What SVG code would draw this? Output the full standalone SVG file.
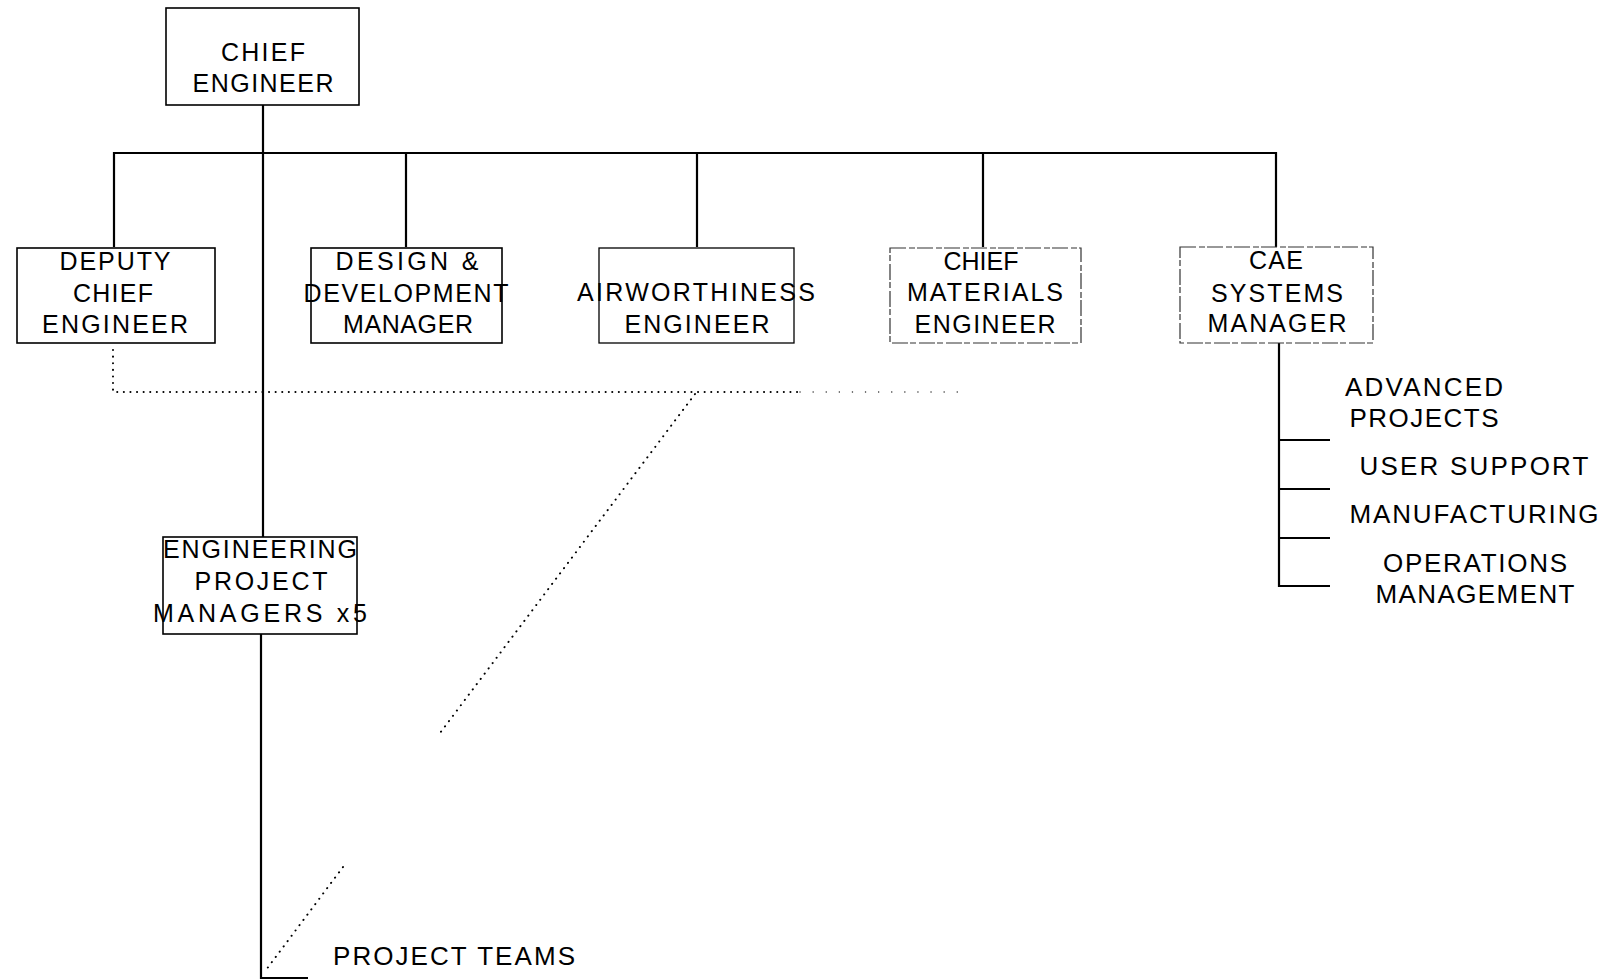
<svg xmlns="http://www.w3.org/2000/svg" width="1610" height="979" viewBox="0 0 1610 979">
<style>
.box{fill:none;stroke:#000;stroke-width:1.6}
.dbox{fill:none;stroke:#333;stroke-width:1.2;stroke-dasharray:16 3 6 2}
.ln{fill:none;stroke:#000;stroke-width:2.2}
.dot{fill:none;stroke:#000;stroke-width:2;stroke-linecap:round;stroke-dasharray:0.1 6.5}
.dot2{fill:none;stroke:#333;stroke-width:1.4;stroke-linecap:round;stroke-dasharray:0.1 13}
.t{font-family:"Liberation Sans",Arial,sans-serif;font-size:25px;fill:#000;text-anchor:middle}
.r{font-size:26px}
</style>
<rect width="1610" height="979" fill="#fff"/>
<g id="connectors">
<path class="ln" d="M263,105 V537 M261,634 V978 H308"/>
<path class="ln" d="M114,247 V153 H1276 V247 M406,153 V247 M697,153 V247 M983,153 V247"/>
<path class="ln" d="M1279,343 V586 H1330 M1279,440 H1330 M1279,489 H1330 M1279,538 H1330"/>
<path class="dot" d="M113,350 V392 H800"/>
<path class="dot2" d="M800,392 H968"/>
<path class="dot" d="M695,394 L440,733 M343,867 L266,970"/>
</g>
<g id="chief-engineer">
<rect class="box" x="166" y="8" width="193" height="97"/>
<text class="t" x="263" y="61" textLength="84" lengthAdjust="spacing">CHIEF</text>
<text class="t" x="263" y="92" textLength="141" lengthAdjust="spacing">ENGINEER</text>
</g>
<g id="deputy-chief-engineer">
<rect class="box" x="17" y="248" width="198" height="95"/>
<text class="t" x="115" y="270" textLength="111" lengthAdjust="spacing">DEPUTY</text>
<text class="t" x="113" y="302" textLength="80" lengthAdjust="spacing">CHIEF</text>
<text class="t" x="115" y="333" textLength="146" lengthAdjust="spacing">ENGINEER</text>
</g>
<g id="design-development-manager">
<rect class="box" x="311" y="248" width="191" height="95"/>
<text class="t" x="407" y="270" textLength="143" lengthAdjust="spacing">DESIGN &amp;</text>
<text class="t" x="406" y="302" textLength="205" lengthAdjust="spacing">DEVELOPMENT</text>
<text class="t" x="408" y="333" textLength="130" lengthAdjust="spacing">MANAGER</text>
</g>
<g id="airworthiness-engineer">
<rect class="box" x="599" y="248" width="195" height="95" style="stroke-width:1.3"/>
<text class="t" x="696" y="301" textLength="238" lengthAdjust="spacing">AIRWORTHINESS</text>
<text class="t" x="697" y="333" textLength="145" lengthAdjust="spacing">ENGINEER</text>
</g>
<g id="chief-materials-engineer">
<rect class="dbox" x="890" y="248" width="191" height="95"/>
<text class="t" x="981" y="270" textLength="75" lengthAdjust="spacing">CHIEF</text>
<text class="t" x="985" y="301" textLength="156" lengthAdjust="spacing">MATERIALS</text>
<text class="t" x="985" y="333" textLength="141" lengthAdjust="spacing">ENGINEER</text>
</g>
<g id="cae-systems-manager">
<rect class="dbox" x="1180" y="247" width="193" height="96"/>
<text class="t" x="1276" y="269" textLength="54" lengthAdjust="spacing">CAE</text>
<text class="t" x="1277" y="302" textLength="132" lengthAdjust="spacing">SYSTEMS</text>
<text class="t" x="1277" y="332" textLength="139" lengthAdjust="spacing">MANAGER</text>
</g>
<g id="engineering-project-managers">
<rect class="box" x="163" y="537" width="194" height="97"/>
<text class="t" x="260" y="558" textLength="194" lengthAdjust="spacing">ENGINEERING</text>
<text class="t" x="261" y="590" textLength="133" lengthAdjust="spacing">PROJECT</text>
<text class="t" x="260" y="622" textLength="214" lengthAdjust="spacing">MANAGERS x5</text>
</g>
<g id="advanced-projects">
<text class="t r" x="1424" y="396" textLength="158" lengthAdjust="spacing">ADVANCED</text>
<text class="t r" x="1424" y="427" textLength="149" lengthAdjust="spacing">PROJECTS</text>
</g>
<g id="user-support">
<text class="t r" x="1474" y="475" textLength="229" lengthAdjust="spacing">USER SUPPORT</text>
</g>
<g id="manufacturing">
<text class="t r" x="1474" y="523" textLength="249" lengthAdjust="spacing">MANUFACTURING</text>
</g>
<g id="operations-management">
<text class="t r" x="1475" y="572" textLength="184" lengthAdjust="spacing">OPERATIONS</text>
<text class="t r" x="1475" y="603" textLength="199" lengthAdjust="spacing">MANAGEMENT</text>
</g>
<g id="project-teams">
<text class="t r" x="454" y="965" textLength="242" lengthAdjust="spacing">PROJECT TEAMS</text>
</g>
</svg>
